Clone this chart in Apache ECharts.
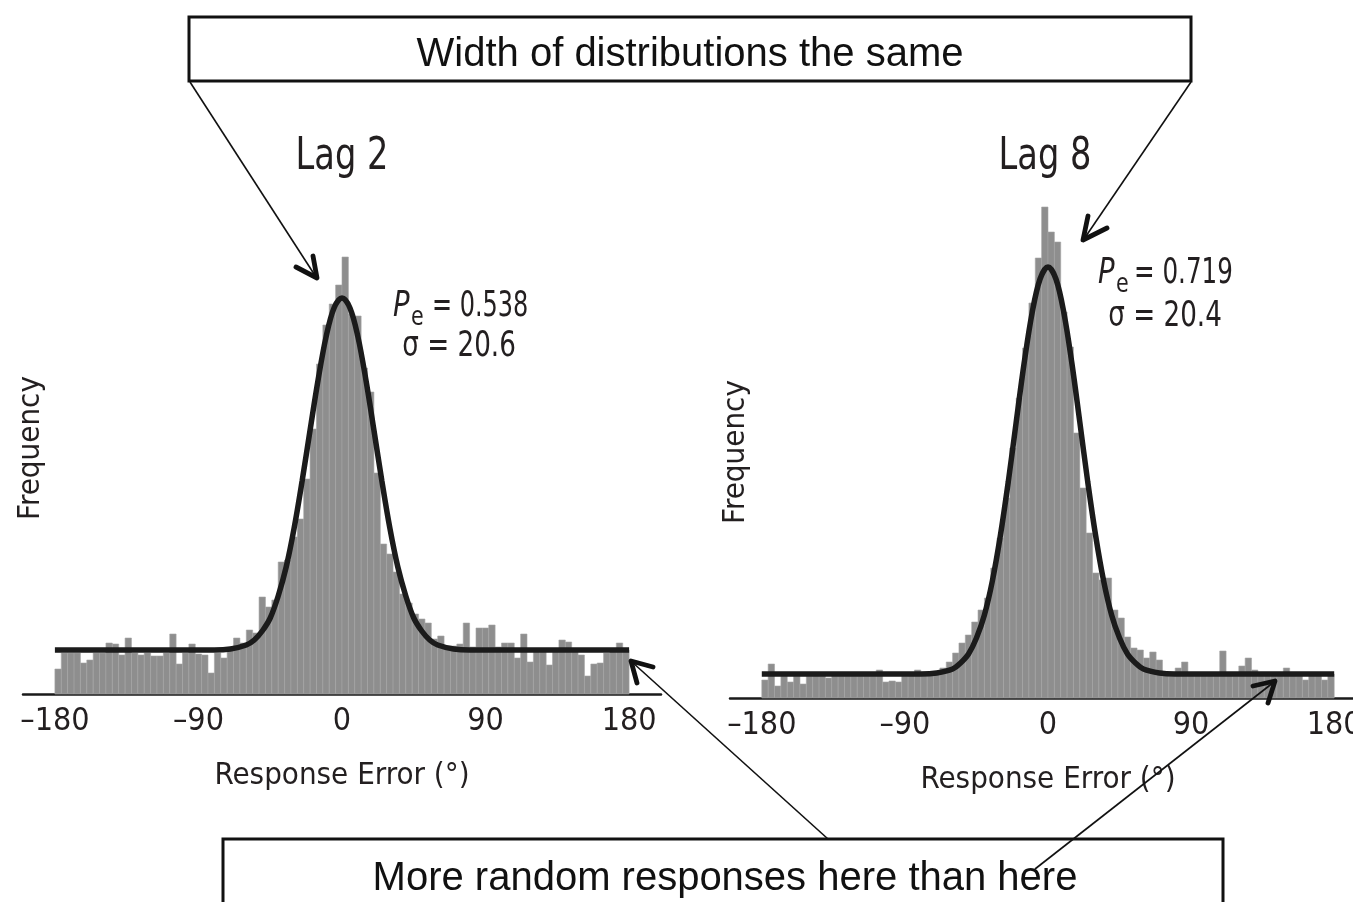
<!DOCTYPE html>
<html><head><meta charset="utf-8">
<script src="https://cdn.jsdelivr.net/npm/echarts@6/dist/echarts.min.js"></script>
<style>html,body{margin:0;padding:0;background:#fff}#c{width:1353px;height:902px}</style>
</head><body><div id="c"></div>
<script>
// Histogram bins: 4-degree bins from -180 to 180
const binStart = -180;
const binWidth = 4;
const tickValues = [-180, -90, 0, 90, 180];

const lag2Freq = [25,41,41,41,31,34,41,41,51,50,39,56,41,39,41,38,38,41,60,30,
  41,50,40,39,21,41,36,46,56,51,64,61,97,87,94,132,134,157,175,215,
  265,330,369,390,409,437,380,378,326,302,221,150,140,122,100,91,80,75,71,55,
  58,48,48,50,71,47,66,66,69,47,51,51,36,60,32,44,44,29,44,54,
  52,44,39,18,30,31,41,44,51,44];

const lag8Freq = [18,34,12,22,16,22,14,22,24,22,20,22,22,22,22,22,22,22,28,16,
  17,16,22,24,28,24,24,26,30,36,45,55,63,76,88,100,130,160,200,250,
  300,350,395,440,491,466,456,386,351,265,210,165,125,118,120,88,80,61,50,48,
  40,46,38,26,22,30,36,24,24,24,24,24,47,24,22,32,40,28,24,24,
  23,24,30,24,22,18,23,23,18,24];

// Fitted mixture-model curves
const fitX =    [-180,-100,-80,-70,-60,-55,-50,-45,-40,-35,-30,-25,-20,-15,-10,-5,0,5,10,15,20,25,30,35,40,45,50,55,60,70,80,100,180];
const lag2Fit = [44,44,44,45,49,54,63,76,98,127,166,213,264,314,357,386,396,386,357,314,264,213,166,127,98,76,63,54,49,45,44,44,44];
const lag8Fit = [24,24,24,25,29,35,44,60,83,117,162,216,276,335,385,419,431,419,385,335,276,216,162,117,83,60,44,35,29,25,24,24,24];

const NARROW = "'Liberation Sans Narrow','Arial Narrow','DejaVu Sans Condensed',sans-serif";
const TXT = '#231f20';

function binData(arr){ return arr.map((v,i)=>[binStart+binWidth*i, binStart+binWidth*(i+1), v]); }
function fitData(ys){ return fitX.map((x,i)=>[x, ys[i]]); }

function renderBar(params, api){
  const p0 = api.coord([api.value(0), 0]);
  const p1 = api.coord([api.value(1), api.value(2)]);
  return { type:'rect', shape:{ x:p0[0], y:p1[1], width:p1[0]-p0[0], height:p0[1]-p1[1] },
    style:{ fill:'#8e8e8e', stroke:'#a4a4a4', lineWidth:0.6 } };
}

function xAx(idx){
  return { gridIndex: idx, type:'value', min:-200, max:200,
    axisLine:{ show:true, onZero:false, lineStyle:{ color:'#1a1a1a', width:2.5 } },
    axisTick:{ show:false }, splitLine:{ show:false },
    axisLabel:{ customValues: tickValues, margin:12, fontSize:32, color:TXT, fontFamily:NARROW,
      formatter: v => String(v).replace('-', '\u2013') },
    name:'Response Error (\u00b0)', nameLocation:'middle', nameGap:66,
    nameTextStyle:{ fontSize:31, color:TXT, fontFamily:NARROW } };
}
function yAx(idx, gap){
  return { gridIndex: idx, type:'value', min:0, max:500,
    axisLine:{show:false}, axisTick:{show:false}, axisLabel:{show:false}, splitLine:{show:false},
    name:'Frequency', nameLocation:'middle', nameRotate:90, nameGap:gap,
    nameTextStyle:{ fontSize:31, color:TXT, fontFamily:NARROW, padding:[0,8,0,0] } };
}

function txt(x, y, s, size, opts){
  opts = opts || {};
  return { type:'text', z:40, x:x, y:y, scaleX: opts.sx || 1,
    style:{ text:s, fontSize:size, fontStyle: opts.italic ? 'italic' : 'normal', fontFamily:NARROW,
      fill:TXT, align: opts.align || 'left', verticalAlign:'middle' } };
}

const chart = echarts.init(document.getElementById('c'));
const headStyle = { stroke:'#111', lineWidth:4.8, lineCap:'round', lineJoin:'round', fill:null };
const lineStyle = { stroke:'#111', lineWidth:1.6 };

chart.setOption({
  animation:false,
  backgroundColor:'#fff',
  grid:[
    { left:23, top:194, width:638, height:500, outerBoundsMode:'none' },
    { left:730, top:198, width:636, height:500, outerBoundsMode:'none' }
  ],
  xAxis:[ xAx(0), xAx(1) ],
  yAxis:[ yAx(0,-23), yAx(1,-21) ],
  series:[
    { type:'custom', xAxisIndex:0, yAxisIndex:0, renderItem:renderBar, data:binData(lag2Freq), z:2 },
    { type:'line', xAxisIndex:0, yAxisIndex:0, data:fitData(lag2Fit), smooth:0.35, symbol:'none',
      lineStyle:{ color:'#1b1b1b', width:5.5 }, z:3 },
    { type:'custom', xAxisIndex:1, yAxisIndex:1, renderItem:renderBar, data:binData(lag8Freq), z:2 },
    { type:'line', xAxisIndex:1, yAxisIndex:1, data:fitData(lag8Fit), smooth:0.35, symbol:'none',
      lineStyle:{ color:'#1b1b1b', width:5.5 }, z:3 }
  ],
  graphic:[
    { type:'rect', z:50, shape:{ x:189, y:17, width:1002, height:64 }, style:{ fill:'#fff', stroke:'#111', lineWidth:3 } },
    { type:'text', z:51, x:690, y:55, style:{ text:'Width of distributions the same', fontSize:40, fontFamily:"'Liberation Sans',Arial,sans-serif", fill:'#111', align:'center', verticalAlign:'middle' } },
    { type:'rect', z:50, shape:{ x:223, y:839, width:1000, height:90 }, style:{ fill:'#fff', stroke:'#111', lineWidth:3 } },
    { type:'text', z:51, x:725, y:879, style:{ text:'More random responses here than here', fontSize:40, fontFamily:"'Liberation Sans',Arial,sans-serif", fill:'#111', align:'center', verticalAlign:'middle' } },
    // panel titles
    txt(342, 158, 'Lag 2', 44, { align:'center', sx:0.85 }),
    txt(1045, 158, 'Lag 8', 44, { align:'center', sx:0.85 }),
    // arrows
    { type:'line', z:60, shape:{ x1:190, y1:82, x2:316, y2:277 }, style:lineStyle },
    { type:'polyline', z:60, shape:{ points:[[296,267],[317,278],[313,256]] }, style:headStyle },
    { type:'line', z:60, shape:{ x1:1191, y1:82, x2:1084, y2:239 }, style:lineStyle },
    { type:'polyline', z:60, shape:{ points:[[1088,216],[1083,240],[1107,228]] }, style:headStyle },
    { type:'line', z:60, shape:{ x1:828, y1:839, x2:632, y2:662 }, style:lineStyle },
    { type:'polyline', z:60, shape:{ points:[[653,667],[631,661],[637,683]] }, style:headStyle },
    { type:'line', z:60, shape:{ x1:1035, y1:869, x2:1274, y2:682 }, style:lineStyle },
    { type:'polyline', z:60, shape:{ points:[[1253,686],[1275,681],[1268,703]] }, style:headStyle },
    // parameter annotations
    txt(393, 307, 'P', 36, { italic:true, sx:0.85 }),
    txt(411, 318, 'e', 27, { sx:0.85 }),
    txt(432, 307, '= 0.538', 36, { sx:0.74 }),
    txt(459, 347, '\u03c3 = 20.6', 36, { align:'center', sx:0.81 }),
    txt(1098, 274, 'P', 36, { italic:true, sx:0.85 }),
    txt(1116, 285, 'e', 27, { sx:0.85 }),
    txt(1134, 274, '= 0.719', 36, { sx:0.76 }),
    txt(1165, 317, '\u03c3 = 20.4', 36, { align:'center', sx:0.81 })
  ]
});
</script></body></html>
